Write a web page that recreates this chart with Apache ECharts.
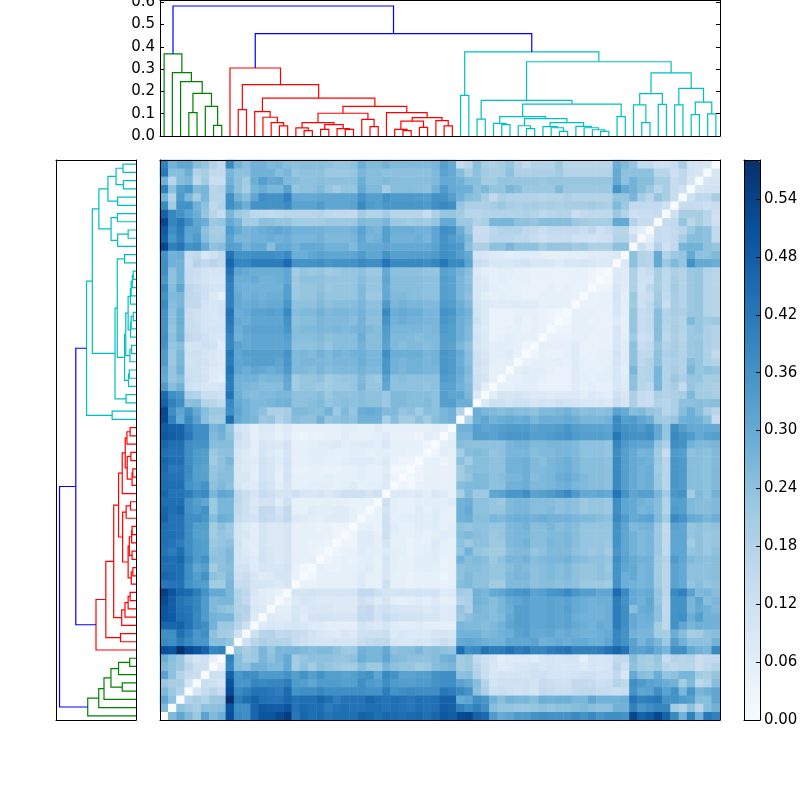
<!DOCTYPE html>
<html><head><meta charset="utf-8">
<style>html,body{margin:0;padding:0;background:#fff}#c{width:800px;height:800px}</style>
<script src="https://cdn.jsdelivr.net/npm/echarts@6/dist/echarts.min.js"></script>
</head><body><div id="c"></div>
<script>
const leafCount = 68;
const maxDist = 0.5804;
const heightTop = 0.61;
const blues = ['#f7fbff','#deebf7','#c6dbef','#9ecae1','#6baed6','#4292c6','#2171b5','#08519c','#08306b'];
const clusterColors = {g:'#008000', r:'#ff0000', c:'#00bfbf', b:'#0000ff'};

// dendrogram merges: [a, b, height, colour]; ids >= 68 refer to earlier merges
const merges = [
[6,7,.048,'g'],[5,68,.133,'g'],[3,4,.105,'g'],[70,69,.191,'g'],[2,71,.244,'g'],[1,72,.284,'g'],[0,73,.368,'g'],
[9,10,.118,'r'],[14,15,.045,'r'],[13,76,.06,'r'],[12,77,.084,'r'],[11,78,.109,'r'],[17,18,.024,'r'],[16,80,.036,'r'],
[19,20,.03,'r'],[22,23,.03,'r'],[21,83,.033,'r'],[82,84,.051,'r'],[81,85,.06,'r'],[25,26,.042,'r'],[24,87,.075,'r'],
[86,88,.102,'r'],[29,30,.024,'r'],[28,90,.03,'r'],[31,32,.039,'r'],[91,92,.067,'r'],[34,35,.045,'r'],[33,94,.069,'r'],
[93,95,.082,'r'],[27,96,.105,'r'],[89,97,.133,'r'],[79,98,.17,'r'],[75,99,.23,'r'],[8,100,.305,'r'],
[36,37,.182,'c'],[41,42,.051,'c'],[40,103,.057,'c'],[44,45,.033,'c'],[43,105,.046,'c'],[48,49,.021,'c'],[47,107,.037,'c'],
[46,108,.042,'c'],[53,54,.021,'c'],[52,110,.028,'c'],[51,111,.037,'c'],[50,112,.043,'c'],[109,113,.06,'c'],[106,114,.078,'c'],
[104,115,.087,'c'],[55,56,.087,'c'],[116,117,.143,'c'],[38,39,.076,'c'],[119,118,.16,'c'],[58,59,.06,'c'],[57,121,.14,'c'],
[60,61,.142,'c'],[122,123,.19,'c'],[62,63,.14,'c'],[64,65,.096,'c'],[66,67,.099,'c'],[126,127,.152,'c'],[125,128,.214,'c'],
[124,129,.283,'c'],[120,130,.333,'c'],[102,131,.377,'c'],
[101,132,.459,'b'],[74,133,.583,'b']
];

// distance matrix, lower triangle, hundredths; row i lists columns 0..i-1, row 0 is the bottom row
const distRows = [
[],
[26],
[31,24],
[26,22,18],
[22,20,20,10],
[32,24,18,14,13],
[26,24,22,17,12,12],
[29,25,22,14,10,12,5],
[51,50,58,52,50,47,39,40],
[38,37,41,38,35,35,25,25,23],
[37,37,44,40,35,37,24,21,20,12],
[46,46,47,43,39,37,28,22,22,17,12],
[50,49,44,43,38,34,28,27,27,19,17,8],
[50,48,43,42,39,34,26,24,23,18,18,9,8],
[52,48,43,41,39,34,26,27,27,18,15,8,7,6],
[55,50,46,45,41,36,30,30,27,18,16,9,7,6,4],
[42,43,43,36,34,33,21,21,27,14,14,10,10,9,8,10],
[46,45,44,37,33,36,24,23,26,12,13,9,7,8,10,10,4],
[44,44,44,37,31,33,21,24,25,11,11,7,10,9,9,11,4,2],
[45,44,46,39,34,36,24,24,26,10,9,7,11,9,8,10,5,5,5],
[43,41,44,37,34,33,23,24,26,10,8,6,11,9,8,10,5,5,4,3],
[44,43,41,37,34,33,22,23,24,11,7,6,10,8,8,10,5,5,4,4,3],
[44,44,43,37,33,32,21,23,22,10,9,6,10,8,8,10,5,5,5,5,4,3],
[44,43,43,37,33,33,21,24,22,10,8,6,10,8,8,10,5,5,5,4,4,3,3],
[47,43,43,37,37,35,25,29,28,14,12,11,15,14,12,15,8,7,6,6,7,7,7,5],
[46,44,46,36,34,36,22,27,27,15,12,9,15,15,11,15,5,5,7,6,6,7,7,5,4],
[44,44,44,36,33,31,22,27,27,16,12,8,11,11,7,12,5,5,5,5,6,5,5,4,4,4],
[46,43,43,41,37,38,27,31,30,16,13,10,14,12,10,10,12,9,9,10,8,10,12,12,12,10,12],
[45,44,44,36,34,36,24,26,24,10,8,7,12,10,6,10,5,5,6,6,6,5,6,7,5,6,6,8],
[44,43,43,37,33,32,23,25,25,9,9,6,11,9,5,11,5,5,5,5,6,5,5,5,6,5,5,8,3],
[45,42,42,38,33,32,23,24,25,9,8,6,11,9,6,10,4,4,5,5,4,4,5,5,6,5,5,7,2,2],
[46,44,44,37,34,33,21,24,27,10,8,7,11,9,7,11,5,5,6,6,5,5,6,7,7,7,6,8,4,3,3],
[44,43,43,37,34,33,22,24,24,9,8,6,10,8,6,10,5,5,6,6,6,5,5,6,6,5,6,6,5,5,4,4],
[46,44,44,37,36,36,25,25,25,11,10,6,10,9,8,11,5,5,6,7,7,8,6,7,7,7,6,9,5,5,5,5,3],
[49,48,47,42,37,37,26,28,24,13,10,5,7,7,5,7,4,3,4,4,5,5,7,5,5,5,6,7,4,4,4,3,6,5],
[48,47,47,41,37,37,27,29,23,11,9,5,8,8,6,8,5,5,5,5,5,5,6,6,5,5,7,5,5,5,5,5,5,6,5],
[52,40,30,38,32,24,21,21,44,30,28,27,22,23,18,21,25,24,24,28,23,24,25,24,28,28,28,20,25,21,21,24,21,25,27,28],
[53,37,31,36,30,25,22,22,37,31,28,26,24,19,19,20,26,26,25,25,28,22,26,23,29,30,29,26,26,23,24,21,25,24,27,28,18],
[47,40,37,24,25,18,17,15,38,30,28,26,26,27,28,28,24,24,25,26,23,24,25,24,25,24,24,22,26,26,25,25,26,24,33,33,29,29],
[45,37,35,19,18,13,13,12,43,29,26,25,26,26,27,27,24,24,24,25,22,24,24,24,25,24,24,22,26,26,25,25,25,24,33,31,31,27,8],
[34,25,28,12,11,9,9,10,41,28,27,26,25,25,25,30,21,23,23,22,21,22,22,23,27,23,23,31,24,24,24,24,23,24,32,32,28,26,12,6],
[30,23,25,13,12,11,7,6,41,28,28,28,26,27,27,31,21,23,23,24,21,22,23,23,26,23,22,32,24,25,24,24,24,24,34,33,29,25,12,10,5],
[31,23,28,12,12,10,8,7,43,31,29,31,30,29,30,34,26,26,25,27,25,26,26,26,28,26,26,35,28,27,28,28,27,27,35,34,30,26,11,9,5,5],
[34,22,27,11,12,11,9,8,41,31,32,33,33,33,31,35,26,27,27,27,26,27,27,27,29,27,27,35,28,27,28,28,27,28,35,34,29,25,12,10,6,5,6],
[34,22,27,12,12,10,9,8,42,31,33,33,33,33,33,36,26,27,26,28,26,28,27,28,29,27,27,37,29,29,29,29,27,28,35,34,30,25,12,9,6,6,7,4],
[36,23,25,11,11,12,11,7,39,32,30,31,31,31,31,32,24,24,24,25,23,25,25,25,28,25,25,32,26,25,26,26,25,26,33,32,27,24,10,8,6,6,6,5,3],
[37,24,29,15,14,12,9,9,39,28,30,31,31,31,31,33,25,25,25,26,24,25,25,25,29,25,25,33,26,26,26,25,26,26,33,33,29,26,11,8,4,5,6,5,5,5],
[36,23,28,14,13,10,10,10,41,29,31,32,32,32,32,35,25,26,26,27,26,27,26,27,28,26,25,34,27,27,27,27,26,27,34,33,29,26,10,7,4,4,5,5,4,5,4],
[36,24,29,13,12,10,9,9,42,30,29,31,31,31,31,36,24,25,25,27,26,26,26,25,28,24,24,36,28,29,28,28,27,27,35,34,29,27,12,8,4,4,4,6,4,5,4,3],
[36,24,29,13,12,10,9,10,43,29,30,32,32,33,32,38,25,26,26,28,26,27,27,26,28,25,25,38,29,30,29,29,27,27,36,35,30,28,11,8,4,4,4,5,5,5,4,3,2],
[38,25,27,15,15,11,9,10,40,30,29,30,29,30,30,35,24,24,24,26,24,25,25,25,27,24,24,34,27,28,27,27,26,26,34,33,29,26,10,8,7,7,7,7,7,7,5,5,5,5],
[36,26,27,16,15,12,8,6,40,30,28,29,28,29,29,33,22,23,23,25,23,23,23,23,26,22,22,30,26,26,25,25,24,24,33,32,27,24,9,6,5,6,5,5,4,4,5,5,5,5,4],
[38,25,31,16,14,12,10,10,40,29,28,28,28,28,28,33,22,23,23,24,22,23,23,23,26,23,23,30,25,25,25,25,24,24,33,32,27,25,9,8,6,5,5,4,4,4,4,5,4,5,4,4],
[35,24,28,14,12,11,9,9,41,29,29,30,28,28,29,31,22,24,24,24,23,23,23,23,25,23,23,31,25,25,25,25,24,24,33,32,27,24,9,7,5,6,5,5,5,4,4,4,4,4,4,4,3],
[37,24,28,14,13,11,10,10,43,31,30,29,29,29,29,31,21,23,22,23,21,22,23,23,24,22,22,30,24,24,24,24,23,23,32,31,28,25,8,6,5,6,6,5,5,4,4,4,4,4,4,4,3,2],
[37,28,28,13,18,15,17,15,46,39,39,41,41,41,41,45,36,36,36,37,35,36,36,36,38,37,37,43,38,38,38,38,37,39,42,38,38,32,13,12,9,9,9,10,11,9,9,9,7,9,9,10,9,8,8],
[36,28,29,14,16,9,12,15,43,36,36,37,37,37,36,38,29,29,31,32,31,31,31,31,34,31,31,36,33,33,33,33,33,34,37,36,33,30,10,9,8,7,6,7,7,7,6,5,5,6,6,6,7,7,7,8],
[53,40,43,36,37,30,24,25,33,32,28,30,30,25,30,30,28,30,30,30,28,28,28,26,30,30,30,31,30,30,30,30,30,32,36,35,34,25,19,19,24,24,27,24,24,24,21,23,23,23,21,22,19,19,19,24,24],
[47,35,40,31,34,25,21,21,32,27,27,28,28,29,28,29,27,27,27,28,26,26,26,27,31,27,28,33,28,28,28,29,27,31,36,34,31,26,14,14,17,17,17,16,16,14,12,14,14,14,12,12,11,12,12,18,18,13],
[49,37,41,32,32,24,20,20,34,30,27,28,29,30,31,30,28,28,28,28,27,27,27,28,32,28,27,33,29,29,29,28,28,31,37,36,29,23,13,13,16,18,18,18,16,15,13,15,15,15,15,13,16,12,14,17,17,9,6],
[53,39,42,37,31,29,22,23,30,27,21,21,24,24,23,23,21,21,21,21,22,22,22,22,26,25,25,27,22,22,21,22,21,23,30,30,22,22,18,19,27,27,27,24,24,23,25,25,25,25,22,21,20,20,20,30,30,18,14,14],
[47,39,36,32,29,23,17,14,27,22,20,16,16,15,16,17,17,17,17,18,16,15,15,15,21,18,18,21,17,17,17,17,14,19,23,23,21,17,17,18,18,18,18,18,19,18,16,17,18,18,13,15,16,16,16,22,18,12,13,13,14],
[38,21,36,36,28,24,16,18,37,33,29,36,36,36,36,38,32,32,32,34,31,31,31,32,38,34,33,35,35,35,35,35,34,37,38,37,23,19,19,19,20,22,20,19,20,20,19,20,19,20,20,20,21,20,19,26,22,15,15,15,15,12],
[28,18,34,27,21,27,17,17,37,28,25,31,37,36,36,40,30,30,30,31,31,31,31,31,36,33,33,36,34,34,34,34,33,36,36,33,28,25,24,20,15,19,18,18,18,18,17,18,18,19,18,18,18,18,18,23,23,27,20,17,23,20,14],
[40,24,33,35,26,27,17,18,30,24,20,27,29,27,27,32,23,24,24,26,23,21,23,23,30,26,26,21,25,25,25,25,24,28,34,30,29,29,24,26,23,23,27,25,22,22,22,22,26,22,22,22,22,22,22,36,30,28,25,22,17,20,14,12],
[28,17,25,27,16,21,13,13,28,24,21,29,33,30,31,26,25,24,24,25,24,24,24,24,29,25,25,26,25,25,25,25,25,26,30,30,28,25,25,21,21,23,23,23,23,23,22,23,23,23,23,23,23,23,23,30,24,28,25,25,20,20,14,16,10],
[42,25,25,29,18,20,16,15,27,24,24,28,28,28,25,27,23,24,24,24,22,22,22,23,27,25,25,24,24,24,24,24,24,26,32,30,25,20,24,21,20,20,24,19,19,19,19,19,21,18,18,18,18,18,18,30,24,24,24,24,17,17,12,16,11,10],
[40,28,31,31,25,23,18,15,38,28,25,28,28,26,27,25,24,25,25,25,24,23,23,24,29,26,26,28,26,26,26,26,26,27,33,30,14,17,25,20,19,21,23,18,15,18,18,18,22,17,17,17,17,17,17,29,26,23,15,15,12,12,14,20,11,10,10]
];
distRows.forEach((row,i)=>{ if(row.length!==i) throw new Error('row '+i+' has '+row.length); });

const leafIds = Array.from({length:leafCount},(_,i)=>i);
const cells = [];
leafIds.forEach(r=>leafIds.forEach(c=>{
  const v = r===c ? 0 : (c<r ? distRows[r][c] : distRows[c][r]);
  cells.push([c,r,v/100]);
}));

// merge positions through the tree
const pos = {}, hgt = {};
leafIds.forEach(i=>{pos[i]=i+0.5;hgt[i]=0;});
const links = merges.map((m,k)=>{
  const id = leafCount+k, a=m[0], b=m[1];
  const row = [pos[a],hgt[a],pos[b],hgt[b],m[2]];
  pos[id]=(pos[a]+pos[b])/2; hgt[id]=m[2];
  return row;
});
const treeSeries = (gi, swap) => ({
  type:'custom', xAxisIndex:gi*2, yAxisIndex:gi*2, data:links, silent:true, clip:false,
  renderItem:(p,api)=>{
    const xa=api.value(0),ha=api.value(1),xb=api.value(2),hb=api.value(3),t=api.value(4);
    const pts=[[xa,ha],[xa,t],[xb,t],[xb,hb]].map(q=>api.coord(swap?[q[1],q[0]]:q));
    return {type:'polyline',shape:{points:pts},style:{fill:null,stroke:clusterColors[merges[p.dataIndex][3]],lineWidth:1.2}};
  }
});

const txt = {fontFamily:'DejaVu Sans',fontSize:15,color:'#000',padding:[3,0,0,0]};
const line = {show:true,onZero:false,lineStyle:{color:'#000',width:1}};
const bare = (extra)=>Object.assign({axisLine:line,axisTick:{show:false},axisLabel:{show:false},splitLine:{show:false},z:10},extra);
const tick = {show:true,inside:true,length:4,lineStyle:{color:'#000',width:1}};
const cat = {type:'category',data:leafIds};
const heights = {type:'value',min:0,max:heightTop,interval:0.1};
const leaves = {type:'value',min:0,max:leafCount};

const xAxis=[
 bare({gridIndex:0,position:'bottom',...leaves}), bare({gridIndex:0,position:'top',...leaves}),
 bare({gridIndex:1,position:'bottom',...heights,inverse:true}), bare({gridIndex:1,position:'top',...heights,inverse:true}),
 bare({gridIndex:2,position:'bottom',...cat}), bare({gridIndex:2,position:'top',...cat}),
 bare({gridIndex:3,position:'bottom',type:'value',min:0,max:1}), bare({gridIndex:3,position:'top',type:'value',min:0,max:1})
];
const yAxis=[
 bare({gridIndex:0,position:'left',...heights,axisTick:tick,
   axisLabel:{show:true,...txt,margin:5,showMaxLabel:false,formatter:v=>v.toFixed(1)}}),
 bare({gridIndex:0,position:'right',...heights,axisTick:tick}),
 bare({gridIndex:1,position:'left',...leaves}), bare({gridIndex:1,position:'right',...leaves}),
 bare({gridIndex:2,position:'left',...cat}), bare({gridIndex:2,position:'right',...cat}),
 bare({gridIndex:3,position:'left',type:'value',min:0,max:maxDist,interval:0.06}),
 bare({gridIndex:3,position:'right',type:'value',min:0,max:maxDist,interval:0.06,axisTick:tick,
   axisLabel:{show:true,...txt,margin:4,showMaxLabel:false,formatter:v=>v.toFixed(2)}})
];

const chart = echarts.init(document.getElementById('c'),null,{renderer:'canvas'});
chart.setOption({
  animation:false,
  backgroundColor:'#fff',
  grid:[
    {left:160,top:0,width:560,height:136,outerBoundsMode:'none'},
    {left:56,top:160,width:80,height:560,outerBoundsMode:'none'},
    {left:160,top:160,width:560,height:560,outerBoundsMode:'none'},
    {left:744,top:160,width:16,height:560,outerBoundsMode:'none'}
  ],
  xAxis, yAxis,
  visualMap:{type:'continuous',seriesIndex:2,min:0,max:maxDist,inRange:{color:blues},
    orient:'vertical',left:744,top:160,itemWidth:16,itemHeight:560,padding:0,
    calculable:false,text:null,hoverLink:false,textStyle:{color:'transparent',fontSize:1}},
  series:[
    treeSeries(0,false),
    treeSeries(1,true),
    {type:'heatmap',xAxisIndex:4,yAxisIndex:4,data:cells,progressive:0,silent:true,emphasis:{disabled:true}}
  ]
});
</script></body></html>
